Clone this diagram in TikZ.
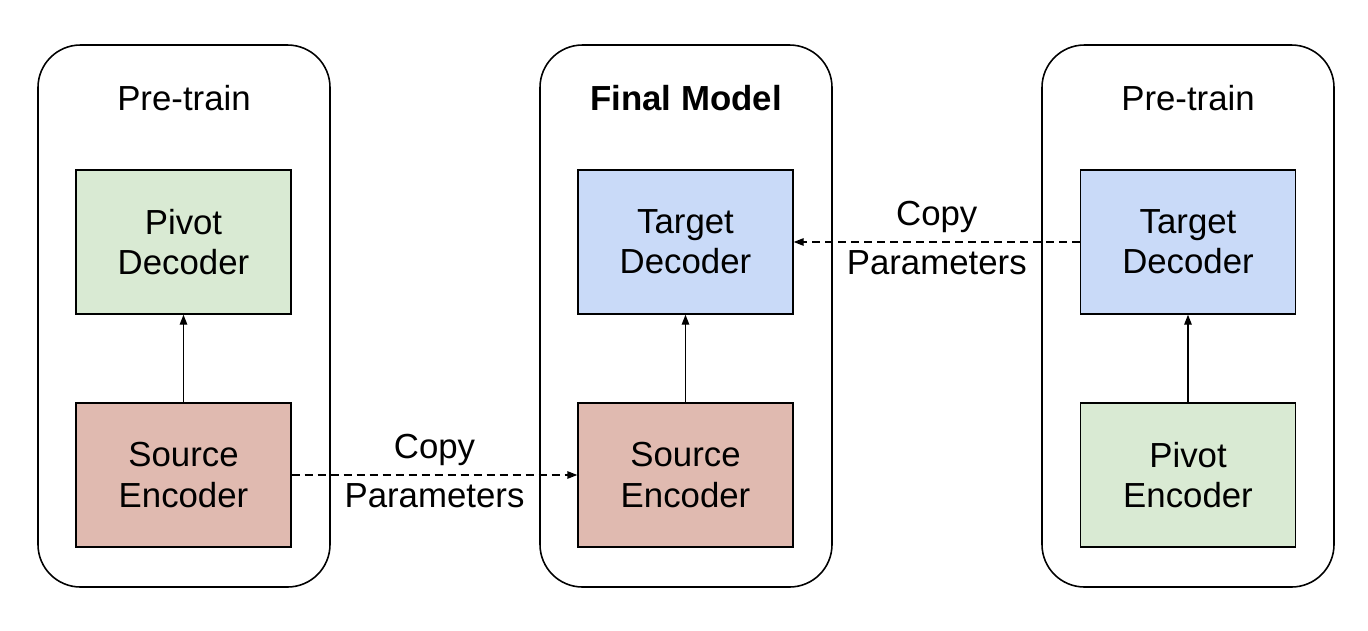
\documentclass[tikz,border=0pt]{standalone}
\usepackage{fontspec}
\setmainfont{Liberation Sans}
\usepackage{xcolor}
\usepackage{tikz}
\usetikzlibrary{arrows.meta}
\definecolor{pivotgreen}{HTML}{D9EAD3}
\definecolor{srcred}{HTML}{E0BAB0}
\definecolor{tgtblue}{HTML}{C9DAF8}
\tikzset{
  panel/.style={draw,line width=0.9pt,rounded corners=0.85cm,
                minimum width=5.84cm,minimum height=10.84cm},
  box/.style={draw,line width=0.8pt,align=center,
              minimum width=4.3cm,minimum height=2.88cm},
  gbox/.style={box,fill=pivotgreen},
  rbox/.style={box,fill=srcred},
  bbox/.style={box,fill=tgtblue},
  arr/.style={-{Triangle[length=0.2cm,width=0.15cm]},line width=0.8pt},
  copyarr/.style={arr,dash pattern=on 0.16cm off 0.1cm},
  copylbl/.style={align=center,yshift=0.08cm,
                  font=\fontsize{19.8}{27.8}\selectfont},
  ttl/.style={align=center},
}

\begin{document}
\begin{tikzpicture}[every node/.style={font=\fontsize{19.8}{22.8}\selectfont}]
\useasboundingbox (0,0) rectangle (27.36,-12.6);

% panels
\node[panel] (lpanel) at (3.68,-6.32) {};
\node[panel] (mpanel) at (13.72,-6.32) {};
\node[panel] (rpanel) at (23.76,-6.32) {};

% panel titles
\node[ttl] (ltitle) at (3.68,-1.96) {Pre-train};
\node[ttl] (mtitle) at (13.72,-1.96) {\bfseries Final Model};
\node[ttl] (rtitle) at (23.76,-1.96) {Pre-train};

% left: pre-train source -> pivot
\node[gbox] (lpivdec) at (3.67,-4.84) {Pivot\\Decoder};
\node[rbox] (lsrcenc) at (3.67,-9.50) {Source\\Encoder};
\draw[arr] (lsrcenc) -- (lpivdec);

% middle: final model
\node[bbox] (mtgtdec) at (13.71,-4.84) {Target\\Decoder};
\node[rbox] (msrcenc) at (13.71,-9.50) {Source\\Encoder};
\draw[arr] (msrcenc) -- (mtgtdec);

% right: pre-train pivot -> target
\node[bbox] (rtgtdec) at (23.76,-4.84) {Target\\Decoder};
\node[gbox] (rpivenc) at (23.76,-9.50) {Pivot\\Encoder};
\draw[arr] (rpivenc) -- (rtgtdec);

% parameter copies
\draw[copyarr] (lsrcenc) -- node[copylbl] (lcopy) {Copy\\Parameters} (msrcenc);
\draw[copyarr] (rtgtdec) -- node[copylbl] (rcopy) {Copy\\Parameters} (mtgtdec);

\end{tikzpicture}
\end{document}
